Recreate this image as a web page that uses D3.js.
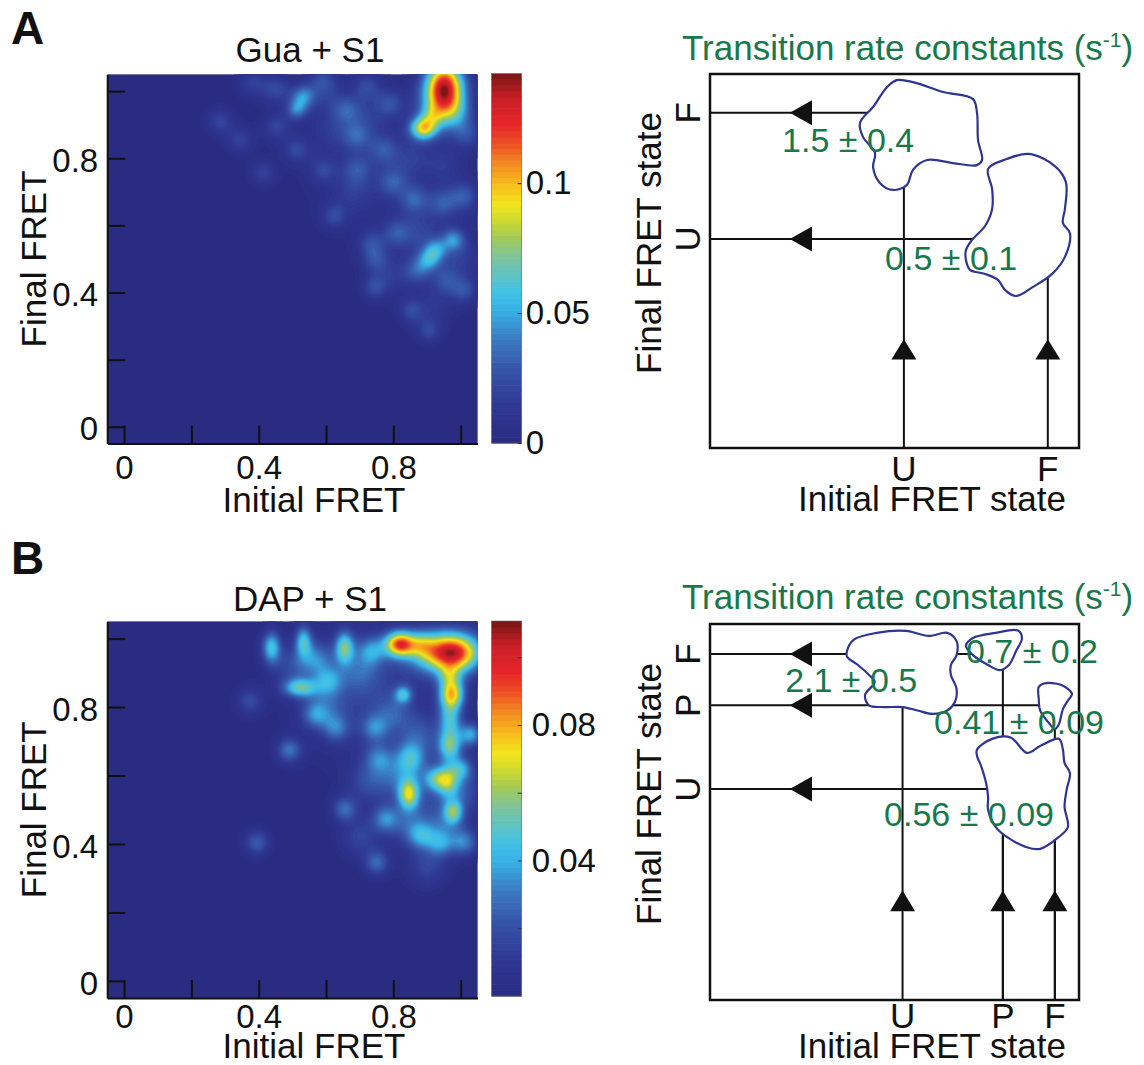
<!DOCTYPE html>
<html><head><meta charset="utf-8">
<script src="https://cdn.jsdelivr.net/npm/d3@7"></script>
<style>
body{margin:0;background:#fff}
svg{display:block}
text{font-family:"Liberation Sans",Arial,Helvetica,sans-serif}
</style>
</head><body>
<svg id="fig" width="1144" height="1065"></svg>
<script>
// ================= DATA =================
const fretTicks = [0, 0.2, 0.4, 0.6, 0.8, 1.0];
const fretTickLabels = ["0", "", "0.4", "", "0.8", ""];
const panelLetters = ["A", "B"];
const heatTitles = ["Gua + S1", "DAP + S1"];
const heatXLabel = "Initial FRET";
const heatYLabel = "Final FRET";
const diagTitle = "Transition rate constants (s";
const diagTitleSup = "-1";
const diagXLabel = "Initial FRET state";
const diagYLabel = "Final FRET state";

// colour bars
const colorbarMaxA = 0.1422;
const colorbarTicksA = [0, 0.05, 0.1];
const colorbarLabelsA = ["0", "0.05", "0.1"];
const colorbarMaxB = 0.1107;
const colorbarTicksB = [0.02, 0.04, 0.06, 0.08, 0.10];
const colorbarLabelsB = ["", "0.04", "", "0.08", ""];

// TDP density peaks (Initial FRET, Final FRET, height, widths) — panel A
const peakAx   = [0.952,0.889,0.915,0.990,0.285,0.345,0.383,0.453,0.532,0.513,0.453,0.661,0.590,0.721,0.790,0.691,0.770,0.513,0.413,0.591,0.624,0.692,0.798,0.862,0.947,1.010,0.735,0.746,0.809,0.905,0.926,0.979,0.873,0.745,0.957,1.010,0.852,0.905,1.020,0.620,0.720,0.850,0.950,0.680,0.870,0.800,0.920,1.000,0.600,0.750,0.920,0.935];
const peakAy   = [1.010,0.889,0.928,0.930,0.909,0.855,1.024,1.004,0.984,0.944,0.894,0.944,1.033,1.013,0.964,0.864,0.825,0.825,0.756,0.765,0.628,0.768,0.729,0.678,0.667,0.688,0.547,0.497,0.577,0.497,0.527,0.557,0.466,0.416,0.436,0.406,0.345,0.285,0.869,0.880,0.920,0.800,0.780,0.700,0.580,0.450,0.360,0.500,0.980,0.780,0.550,0.950];
const peakAamp = [0.128,0.082,0.024,0.022,0.020,0.019,0.018,0.022,0.040,0.036,0.020,0.024,0.021,0.021,0.022,0.024,0.022,0.021,0.019,0.018,0.021,0.021,0.024,0.026,0.024,0.026,0.021,0.021,0.021,0.034,0.036,0.036,0.024,0.022,0.021,0.024,0.021,0.021,0.021,0.012,0.012,0.012,0.012,0.012,0.012,0.012,0.012,0.012,0.012,0.008,0.008,0.025];
const peakAsx  = [0.040,0.028,0.022,0.035,0.028,0.028,0.030,0.030,0.025,0.022,0.028,0.030,0.030,0.030,0.030,0.030,0.030,0.028,0.026,0.028,0.026,0.030,0.030,0.030,0.030,0.030,0.028,0.028,0.028,0.024,0.024,0.024,0.028,0.026,0.028,0.028,0.026,0.026,0.030,0.040,0.040,0.040,0.040,0.040,0.040,0.040,0.040,0.040,0.040,0.140,0.100,0.050];
const peakAsy  = [0.058,0.024,0.022,0.035,0.028,0.028,0.030,0.030,0.025,0.022,0.028,0.030,0.030,0.030,0.030,0.030,0.030,0.028,0.026,0.028,0.026,0.030,0.030,0.030,0.030,0.030,0.028,0.028,0.028,0.024,0.024,0.024,0.028,0.026,0.028,0.028,0.026,0.026,0.030,0.040,0.040,0.040,0.040,0.040,0.040,0.040,0.040,0.040,0.040,0.140,0.100,0.050];

// TDP density peaks — panel B
const peakBx   = [0.963,0.995,0.820,0.885,0.973,0.965,0.968,0.968,0.963,1.003,0.978,0.846,0.830,0.655,0.533,0.438,0.523,0.374,0.491,0.655,0.395,0.751,0.851,0.777,0.608,0.735,0.756,0.926,1.011,0.940,0.883,0.629,0.745,0.566,1.030,0.720,0.900,0.570,0.500,0.600,0.700,0.800,0.880,0.720,0.800,0.850,0.950,1.000,0.900,0.700];
const peakBy   = [0.960,0.950,0.984,0.985,0.838,0.893,0.760,0.687,0.585,0.619,0.493,0.546,0.837,0.974,0.994,0.974,0.856,0.818,0.674,0.502,0.404,0.345,0.650,0.473,0.876,0.964,0.650,0.590,0.404,0.400,0.423,0.738,0.738,0.777,0.720,0.850,0.550,0.940,0.920,0.800,0.900,0.780,0.720,0.580,0.600,0.450,0.450,0.550,0.330,0.420];
const peakBamp = [0.098,0.012,0.082,0.022,0.074,0.020,0.036,0.048,0.040,0.030,0.042,0.056,0.035,0.048,0.040,0.044,0.045,0.018,0.028,0.026,0.023,0.026,0.034,0.028,0.028,0.028,0.023,0.036,0.028,0.026,0.026,0.023,0.023,0.023,0.036,0.014,0.014,0.026,0.015,0.015,0.015,0.015,0.015,0.015,0.015,0.015,0.015,0.015,0.015,0.015];
const peakBsx  = [0.068,0.035,0.032,0.025,0.026,0.022,0.024,0.024,0.022,0.024,0.020,0.022,0.018,0.020,0.018,0.020,0.036,0.028,0.026,0.026,0.026,0.026,0.030,0.028,0.030,0.030,0.030,0.024,0.028,0.028,0.028,0.028,0.028,0.028,0.024,0.130,0.100,0.035,0.040,0.040,0.040,0.040,0.040,0.040,0.040,0.040,0.040,0.040,0.040,0.040];
const peakBsy  = [0.042,0.035,0.026,0.025,0.034,0.022,0.034,0.032,0.032,0.024,0.024,0.032,0.018,0.034,0.032,0.034,0.020,0.028,0.026,0.026,0.026,0.026,0.034,0.028,0.030,0.030,0.030,0.024,0.028,0.028,0.028,0.028,0.028,0.028,0.024,0.130,0.100,0.035,0.040,0.040,0.040,0.040,0.040,0.040,0.040,0.040,0.040,0.040,0.040,0.040];

// kinetic diagram A (state positions in FRET units)
const statesA = ["U", "F"];
const initialFretA = [0.528, 0.957];
const finalFretA = [0.565, 0.936];
const transitionsA = [["U","F"], ["F","U"]];
const ratesA = ["1.5 \u00B1 0.4", "0.5 \u00B1 0.1"];
const rateAnchorA = [[0.165, 0.821], [0.472, 0.474]];
const blobsA = [
  [[0.507,1.032],[0.555,1.026],[0.645,0.997],[0.734,0.976],[0.746,0.935],[0.749,0.856],[0.761,0.797],[0.746,0.782],[0.674,0.788],[0.597,0.797],[0.555,0.768],[0.537,0.724],[0.496,0.709],[0.457,0.729],[0.436,0.776],[0.442,0.818],[0.406,0.865],[0.397,0.906],[0.436,0.953],[0.478,1.012]],
  [[0.779,0.771],[0.835,0.800],[0.901,0.815],[0.978,0.779],[1.011,0.732],[1.008,0.653],[1.002,0.612],[1.023,0.582],[1.008,0.512],[0.970,0.462],[0.913,0.424],[0.862,0.397],[0.829,0.415],[0.809,0.444],[0.770,0.462],[0.725,0.474],[0.713,0.503],[0.713,0.532],[0.731,0.562],[0.770,0.603],[0.791,0.653],[0.791,0.712]]
];

// kinetic diagram B
const statesB = ["U", "P", "F"];
const initialFretB = [0.524, 0.823, 0.978];
const finalFretB = [0.567, 0.812, 0.962];
const transitionsB = [["U","F"], ["P","F"], ["F","P"], ["P","U"], ["F","U"]];
const ratesB = ["2.1 \u00B1 0.5", "0.7 \u00B1 0.2", "0.41 \u00B1 0.09", "0.56 \u00B1 0.09"];
const rateAnchorB = [[0.174, 0.851], [0.713, 0.936], [0.618, 0.728], [0.469, 0.460]];
const blobsB = [
  [[0.358,0.970],[0.379,1.004],[0.447,1.024],[0.534,1.030],[0.602,1.015],[0.657,1.024],[0.685,1.000],[0.685,0.959],[0.668,0.930],[0.668,0.901],[0.685,0.861],[0.680,0.822],[0.657,0.797],[0.612,0.787],[0.569,0.797],[0.524,0.807],[0.469,0.807],[0.424,0.812],[0.412,0.842],[0.441,0.880],[0.424,0.901],[0.391,0.930],[0.358,0.955]],
  [[0.713,0.986],[0.734,1.009],[0.802,1.024],[0.868,1.031],[0.880,1.009],[0.862,0.970],[0.841,0.930],[0.814,0.915],[0.779,0.930],[0.734,0.959]],
  [[0.930,0.866],[0.946,0.876],[0.996,0.872],[1.029,0.846],[1.017,0.826],[1.002,0.801],[0.990,0.757],[0.978,0.743],[0.958,0.763],[0.934,0.797],[0.930,0.831]],
  [[0.746,0.683],[0.791,0.714],[0.846,0.718],[0.895,0.673],[0.934,0.693],[0.990,0.714],[1.002,0.683],[1.007,0.643],[1.023,0.614],[1.013,0.564],[1.007,0.515],[1.017,0.456],[0.990,0.427],[0.934,0.392],[0.891,0.398],[0.835,0.427],[0.802,0.456],[0.779,0.506],[0.779,0.544],[0.773,0.585],[0.758,0.635],[0.746,0.664]]
];

// ================= STYLE =================
const GREEN = "#17794a";
const BLOB = "#2e3592";
const INK = "#111";
const cmapStops  = [0, 0.10, 0.20, 0.28, 0.35, 0.40, 0.45, 0.50, 0.55, 0.60, 0.64, 0.69, 0.75, 0.80, 0.86, 0.93, 1.0];
const cmapColors = ["#2a2c82","#2f3994","#3758aa","#3b7ec3","#36b0e6","#42c2e6","#60c3c0","#80c497","#a3ca55","#d2db2c","#f2e41c","#f8bf1b","#f48a22","#ee5224","#e4242a","#c71f26","#6b1412"];

const svg = d3.select("#fig");
const defs = svg.append("defs");

function addText(parent, x, y, str, o = {}) {
  const tr = o.rotate ? `translate(${x},${y}) rotate(-90)` : `translate(${x},${y})`;
  return parent.append("text")
    .attr("transform", tr)
    .attr("text-anchor", o.anchor || "start")
    .attr("font-size", o.size || 35)
    .attr("font-weight", o.weight || "normal")
    .attr("fill", o.fill || INK)
    .text(str);
}

function styleAxisText(g, size, dy) {
  g.selectAll(".tick text").attr("font-size", size).attr("fill", INK);
  if (dy) g.selectAll(".tick text").attr("dy", dy);
}

// ================= HEATMAP PANELS =================
function heatPanel(p) {
  const g = svg.append("g");
  const x = d3.scaleLinear([-0.05, 1.05], [p.left, p.right]);
  const y = d3.scaleLinear([-0.05, 1.05], [p.bottom, p.top]);
  const cScaleT = d3.scaleLinear(cmapStops, cmapColors).clamp(true);
  const color = v => cScaleT(v / p.cmax);

  const step = 0.005, g0 = -0.05, n = 221;
  const vals = new Float64Array(n * n);
  for (let j = 0; j < n; j++) {
    const fy = g0 + j * step;
    for (let i = 0; i < n; i++) {
      const fx = g0 + i * step;
      let s = 0;
      for (let k = 0; k < p.px.length; k++) {
        const dx = (fx - p.px[k]) / p.sx[k], dy = (fy - p.py[k]) / p.sy[k];
        s += p.amp[k] * Math.exp(-0.5 * (dx * dx + dy * dy));
      }
      vals[j * n + i] = s;
    }
  }
  const thresholds = d3.range(64).map(k => k * p.cmax / 64);
  const contours = d3.contours().size([n, n]).thresholds(thresholds)(vals);
  const proj = d3.geoTransform({
    point(cx, cy) { this.stream.point(x(g0 + (cx - 0.5) * step), y(g0 + (cy - 0.5) * step)); }
  });
  const path = d3.geoPath(proj);

  const clipId = "clip" + p.id;
  defs.append("clipPath").attr("id", clipId).append("rect")
    .attr("x", p.left).attr("y", p.top).attr("width", p.right - p.left).attr("height", p.bottom - p.top);
  const hm = g.append("g").attr("clip-path", `url(#${clipId})`);
  hm.append("rect").attr("x", p.left).attr("y", p.top)
    .attr("width", p.right - p.left).attr("height", p.bottom - p.top).attr("fill", color(0));
  hm.selectAll("path").data(contours).join("path")
    .attr("d", path).attr("fill", d => color(d.value)).attr("stroke", "none");

  const ax = g.append("g").attr("transform", `translate(0,${p.bottom})`)
    .call(d3.axisBottom(x).tickValues(fretTicks).tickFormat((d, i) => fretTickLabels[i])
      .tickSizeInner(-18).tickSizeOuter(0).tickPadding(p.xPad));
  const ay = g.append("g").attr("transform", `translate(${p.left},0)`)
    .call(d3.axisLeft(y).tickValues(fretTicks).tickFormat((d, i) => fretTickLabels[i])
      .tickSizeInner(-18).tickSizeOuter(0).tickPadding(9));
  [ax, ay].forEach(a => {
    a.select(".domain").attr("stroke", INK).attr("stroke-width", 2);
    a.selectAll(".tick line").attr("stroke", INK).attr("stroke-width", 2);
  });
  styleAxisText(ax, 33);
  styleAxisText(ay, 33, "0.4em");

  // colour bar
  const cb = g.append("g");
  const cy = d3.scaleLinear([0, p.cmax], [p.cbBottom, p.top0]);
  const bands = d3.range(64).map(k => k * p.cmax / 64);
  cb.selectAll("rect").data(bands).join("rect")
    .attr("x", p.cbLeft).attr("width", p.cbRight - p.cbLeft)
    .attr("y", d => cy(d + p.cmax / 64)).attr("height", d => cy(d) - cy(d + p.cmax / 64) + 0.6)
    .attr("fill", d => color(d));
  cb.append("rect").attr("x", p.cbLeft).attr("y", p.top0).attr("width", p.cbRight - p.cbLeft)
    .attr("height", p.cbBottom - p.top0).attr("fill", "none").attr("stroke", "#666").attr("stroke-width", 0.6);
  const ac = cb.append("g").attr("transform", `translate(${p.cbRight},0)`)
    .call(d3.axisRight(cy).tickValues(p.cbTicks).tickFormat((d, i) => p.cbLabels[i])
      .tickSizeInner(-4).tickSizeOuter(0).tickPadding(p.cbPad));
  ac.select(".domain").remove();
  ac.selectAll(".tick line").attr("stroke", "#333").attr("stroke-width", 1);
  styleAxisText(ac, 33);

  addText(g, 11, p.letterY, p.letter, { size: 46, weight: "bold" });
  addText(g, 310, p.titleY, p.title, { anchor: "middle", size: 35 });
  addText(g, 314, p.xlabY, heatXLabel, { anchor: "middle", size: 35 });
  addText(g, 46, (p.top + p.bottom) / 2, heatYLabel, { anchor: "middle", size: 35, rotate: true });
}

heatPanel({ id: "A", left: 107.2, right: 477.5, top: 74.4, bottom: 443.5,
  px: peakAx, py: peakAy, amp: peakAamp, sx: peakAsx, sy: peakAsy,
  cmax: colorbarMaxA, cbTicks: colorbarTicksA, cbLabels: colorbarLabelsA, cbPad: 4,
  cbLeft: 491.5, cbRight: 521.7, top0: 73.5, cbBottom: 443, xPad: 12,
  letter: panelLetters[0], letterY: 44, title: heatTitles[0], titleY: 62, xlabY: 511.5 });

heatPanel({ id: "B", left: 107.2, right: 477.5, top: 621.5, bottom: 998,
  px: peakBx, py: peakBy, amp: peakBamp, sx: peakBsx, sy: peakBsy,
  cmax: colorbarMaxB, cbTicks: colorbarTicksB, cbLabels: colorbarLabelsB, cbPad: 10,
  cbLeft: 491.5, cbRight: 521.7, top0: 621, cbBottom: 996, xPad: 7,
  letter: panelLetters[1], letterY: 574, title: heatTitles[1], titleY: 611, xlabY: 1058 });

// ================= KINETIC DIAGRAMS =================
function diagram(p) {
  const g = svg.append("g");
  const x = d3.scaleLinear([-0.05, 1.05], [710, 1079]);
  const y = d3.scaleLinear([-0.05, 1.05], [p.bottom, p.top]);
  const col = Object.fromEntries(p.states.map((s, i) => [s, p.init[i]]));
  const row = Object.fromEntries(p.states.map((s, i) => [s, p.fin[i]]));

  p.trans.forEach(([from, to]) => {
    g.append("line").attr("x1", x(col[from])).attr("x2", x(col[from]))
      .attr("y1", y(-0.05)).attr("y2", y(row[to])).attr("stroke", INK).attr("stroke-width", 2);
    g.append("line").attr("x1", x(-0.05)).attr("x2", x(col[from]))
      .attr("y1", y(row[to])).attr("y2", y(row[to])).attr("stroke", INK).attr("stroke-width", 2);
  });
  const fromStates = [...new Set(p.trans.map(t => t[0]))];
  const toStates = [...new Set(p.trans.map(t => t[1]))];
  fromStates.forEach(s => {
    const cx = x(col[s]), tip = y(0.27), base = y(0.21);
    g.append("path").attr("d", `M${cx},${tip}L${cx - 12.5},${base}L${cx + 12.5},${base}Z`).attr("fill", INK);
  });
  toStates.forEach(s => {
    const ry = y(row[s]), tip = x(0.188), base = x(0.254);
    g.append("path").attr("d", `M${tip},${ry}L${base},${ry - 12.5}L${base},${ry + 12.5}Z`).attr("fill", INK);
  });
  g.append("rect").attr("x", 710).attr("y", p.top).attr("width", 369).attr("height", p.bottom - p.top)
    .attr("fill", "none").attr("stroke", INK).attr("stroke-width", 2.5);

  const line = d3.line().x(d => x(d[0])).y(d => y(d[1])).curve(d3.curveCatmullRomClosed.alpha(0.5));
  g.selectAll("path.blob").data(p.blobs).join("path").attr("class", "blob")
    .attr("d", line).attr("fill", "#fff").attr("stroke", BLOB).attr("stroke-width", 2.2);

  p.rates.forEach((r, i) => addText(g, x(p.rateAt[i][0]), y(p.rateAt[i][1]), r, { size: 34, fill: GREEN }));

  p.states.forEach((s, i) => {
    addText(g, x(p.init[i]), p.stateLabY, s, { anchor: "middle", size: 35 });
    addText(g, 700, y(p.fin[i]), s, { anchor: "middle", size: 35, rotate: true });
  });
  addText(g, 932, p.xlabY, diagXLabel, { anchor: "middle", size: 35 });
  addText(g, 661, p.ylabC, diagYLabel, { anchor: "middle", size: 35, rotate: true });

  const t = addText(g, 682, p.titleY, "", { size: 35, fill: GREEN });
  t.append("tspan").text(diagTitle);
  t.append("tspan").attr("font-size", 21).attr("dy", -13).text(diagTitleSup);
  t.append("tspan").attr("dy", 13).text(")");
}

diagram({ top: 74, bottom: 448, states: statesA, init: initialFretA, fin: finalFretA,
  trans: transitionsA, rates: ratesA, rateAt: rateAnchorA, blobs: blobsA,
  stateLabY: 481, xlabY: 511, ylabC: 243, titleY: 60 });

diagram({ top: 624, bottom: 1000, states: statesB, init: initialFretB, fin: finalFretB,
  trans: transitionsB, rates: ratesB, rateAt: rateAnchorB, blobs: blobsB,
  stateLabY: 1028, xlabY: 1058, ylabC: 794, titleY: 609 });
</script>
</body></html>
